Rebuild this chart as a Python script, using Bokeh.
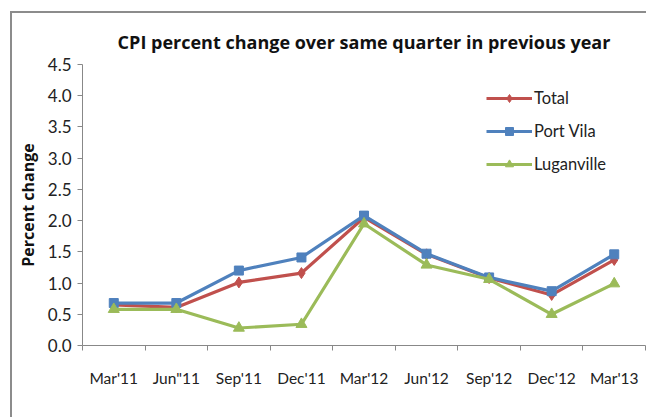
from bokeh.plotting import figure
from bokeh.models import FixedTicker, NumeralTickFormatter, Range1d, Legend, LegendItem
from bokeh.embed import file_html
from bokeh.resources import INLINE

quarters = ["Mar'11", "Jun\"11", "Sep'11", "Dec'11", "Mar'12", "Jun'12", "Sep'12", "Dec'12", "Mar'13"]
total = [0.65, 0.61, 1.01, 1.16, 2.05, 1.46, 1.08, 0.81, 1.37]
port_vila = [0.68, 0.68, 1.20, 1.41, 2.08, 1.47, 1.09, 0.87, 1.46]
luganville = [0.58, 0.58, 0.28, 0.34, 1.95, 1.29, 1.06, 0.50, 0.99]
y_ticks = [0.0, 0.5, 1.0, 1.5, 2.0, 2.5, 3.0, 3.5, 4.0, 4.5]

FONT = "Lato"
BOLD_FONT = "Open Sans"
x = [i + 0.5 for i in range(len(quarters))]

p = figure(width=636, height=406, output_backend="svg", toolbar_location=None,
           x_range=Range1d(0, len(quarters)), y_range=Range1d(0, 4.5),
           min_border_left=70, min_border_right=3, min_border_top=51, min_border_bottom=74)
p.outline_line_color = None
p.xgrid.visible = False
p.ygrid.visible = False
p.background_fill_color = "white"
p.border_fill_color = "white"
p.styles = {
    "margin-left": "10px",
    "margin-top": "11px",
    "border-left": "2px solid #8c8c8c",
    "border-top": "2px solid #8c8c8c",
}

p.title.text = "CPI percent change over same quarter in previous year"
p.title.align = "center"
p.title.vertical_align = "top"
p.title.text_font = BOLD_FONT
p.title.text_font_style = "bold"
p.title.text_font_size = "18px"
p.title.text_color = "#111111"
p.title.standoff = 17

# x axis: labels at centers, ticks at boundaries
p.xaxis.ticker = FixedTicker(ticks=x, minor_ticks=list(range(len(quarters) + 1)))
p.xaxis.major_label_overrides = {xi: q for xi, q in zip(x, quarters)}
p.xaxis.major_tick_out = 0
p.xaxis.major_tick_in = 0
p.xaxis.minor_tick_out = 5
p.xaxis.minor_tick_in = 0
p.xaxis.minor_tick_line_color = "#888888"
p.xaxis.axis_line_color = "#888888"
p.xaxis.major_label_standoff = 18
p.xaxis.major_label_text_font = FONT
p.xaxis.major_label_text_font_size = "15.5px"
p.xaxis.major_label_text_color = "#222222"

p.yaxis.ticker = FixedTicker(ticks=y_ticks)
p.yaxis.formatter = NumeralTickFormatter(format="0.0")
p.yaxis.major_tick_out = 5
p.yaxis.major_tick_in = 0
p.yaxis.minor_tick_out = 0
p.yaxis.minor_tick_in = 0
p.yaxis.axis_line_color = "#888888"
p.yaxis.major_tick_line_color = "#888888"
p.yaxis.major_label_standoff = 6
p.yaxis.major_label_text_font = FONT
p.yaxis.major_label_text_font_size = "17px"
p.yaxis.major_label_text_color = "#222222"
p.yaxis.axis_label = "Percent change"
p.yaxis.axis_label_text_font = BOLD_FONT
p.yaxis.axis_label_text_font_style = "bold"
p.yaxis.axis_label_text_font_size = "16px"
p.yaxis.axis_label_text_color = "#111111"
p.yaxis.axis_label_standoff = 6

series = [("Total", total, "#C0504D", "diamond", 11),
          ("Port Vila", port_vila, "#4F81BD", "square", 9),
          ("Luganville", luganville, "#9BBB59", "triangle", 11)]
items = []
for name, vals, col, mk, sz in series:
    l = p.line(x, vals, line_color=col, line_width=3.2)
    m = p.scatter(x, vals, marker=mk, size=sz, fill_color=col, line_color=col)
    items.append(LegendItem(label=name, renderers=[l, m]))

legend = Legend(items=items, location=(404, 171), orientation="vertical")
legend.border_line_color = None
legend.background_fill_alpha = 0
legend.padding = 0
legend.margin = 0
legend.spacing = 13
legend.glyph_width = 46
legend.glyph_height = 20
legend.label_height = 20
legend.label_standoff = 2
legend.label_text_font = FONT
legend.label_text_font_size = "16.5px"
legend.label_text_color = "#222222"
legend.label_text_baseline = "middle"
p.add_layout(legend, "center")

open("out.html", "w").write(file_html(p, INLINE))
